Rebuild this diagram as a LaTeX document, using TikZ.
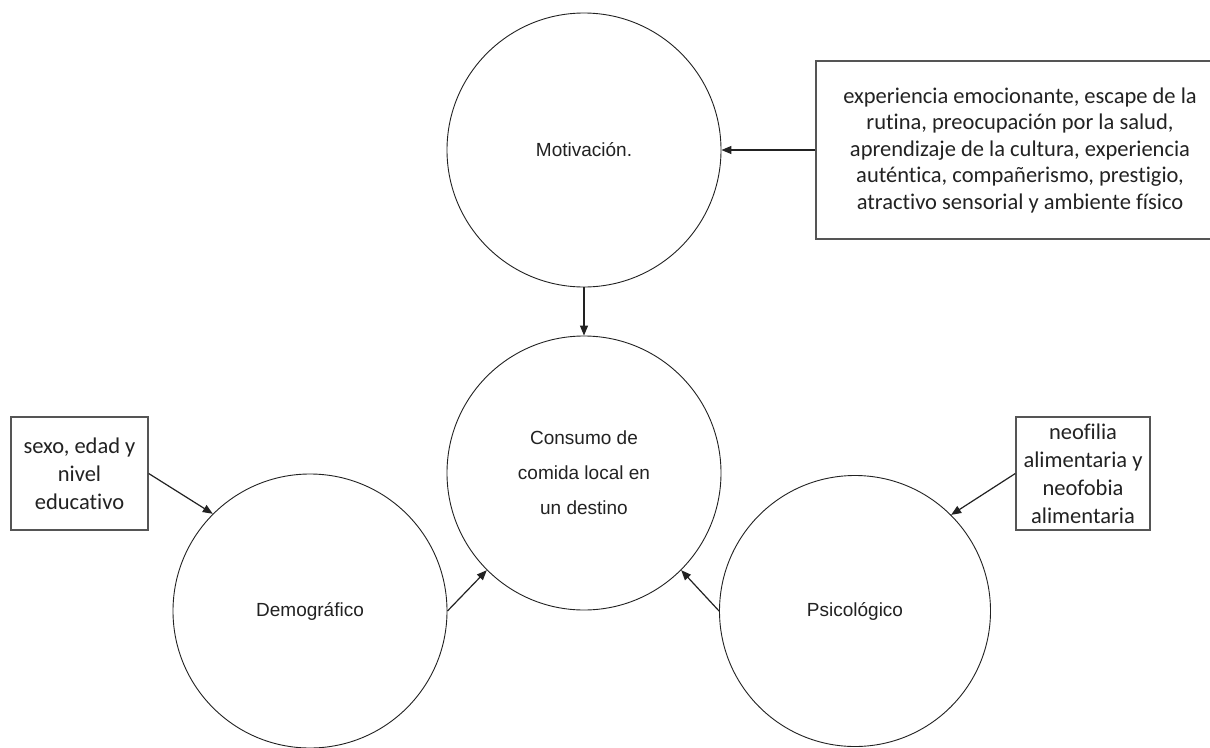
\documentclass[tikz,border=0pt]{standalone}
\usepackage{fontspec}
\setmainfont{Liberation Sans}
\newfontfamily\calfont[Ligatures=NoCommon]{Carlito}
\usetikzlibrary{arrows.meta}
\definecolor{ink}{HTML}{222222}
\definecolor{boxline}{HTML}{555555}
\tikzset{
  bubble/.style={circle, draw=ink, line width=0.9pt, minimum size=274pt, inner sep=0pt,
    text=ink, align=center, font=\fontsize{19}{35}\selectfont},
  factbox/.style={rectangle, draw=boxline, line width=1.4pt, inner sep=0pt,
    text=ink, align=center, font=\calfont\fontsize{22.5}{28}\selectfont},
  link/.style={draw=ink, line width=1.2pt, -{Triangle[length=10pt,width=8pt]}}
}
\begin{document}
\begin{tikzpicture}[x=1pt, y=-1pt]
\clip (0,0) rectangle (1210,747);
\fill[white] (0,0) rectangle (1210,747);
\node[bubble] (mot) at (584,150) {Motivación.};
\node[bubble] (cons) at (584,473) {Consumo de\\comida local en\\un destino};
\node[bubble] (dem) at (310,611) {Demográfico};
\node[bubble, minimum size=271pt] (psi) at (855,611) {Psicológico};
\node[factbox, minimum width=408pt, minimum height=178pt,
  font=\calfont\fontsize{22.5}{26.5}\selectfont] (mbox) at (1020,150)
  {experiencia emocionante, escape de la\\rutina, preocupación por la salud,\\aprendizaje de la cultura, experiencia\\auténtica, compañerismo, prestigio,\\atractivo sensorial y ambiente físico};
\node[factbox, minimum width=137pt, minimum height=113pt] (dbox) at (79.5,473.5)
  {sexo, edad y\\nivel\\educativo};
\node[factbox, minimum width=134pt, minimum height=113pt] (pbox) at (1083,473.5)
  {neofilia\\alimentaria y\\neofobia\\alimentaria};
\draw[link] (mbox.west) -- (mot.east);
\draw[link] (mot.south) -- (cons.north);
\draw[link] (dbox.east) -- (dem.135);
\draw[link] (pbox.west) -- (psi.45);
\draw[link] (dem.east) -- (cons.225);
\draw[link] (psi.west) -- (cons.315);
\end{tikzpicture}
\end{document}
